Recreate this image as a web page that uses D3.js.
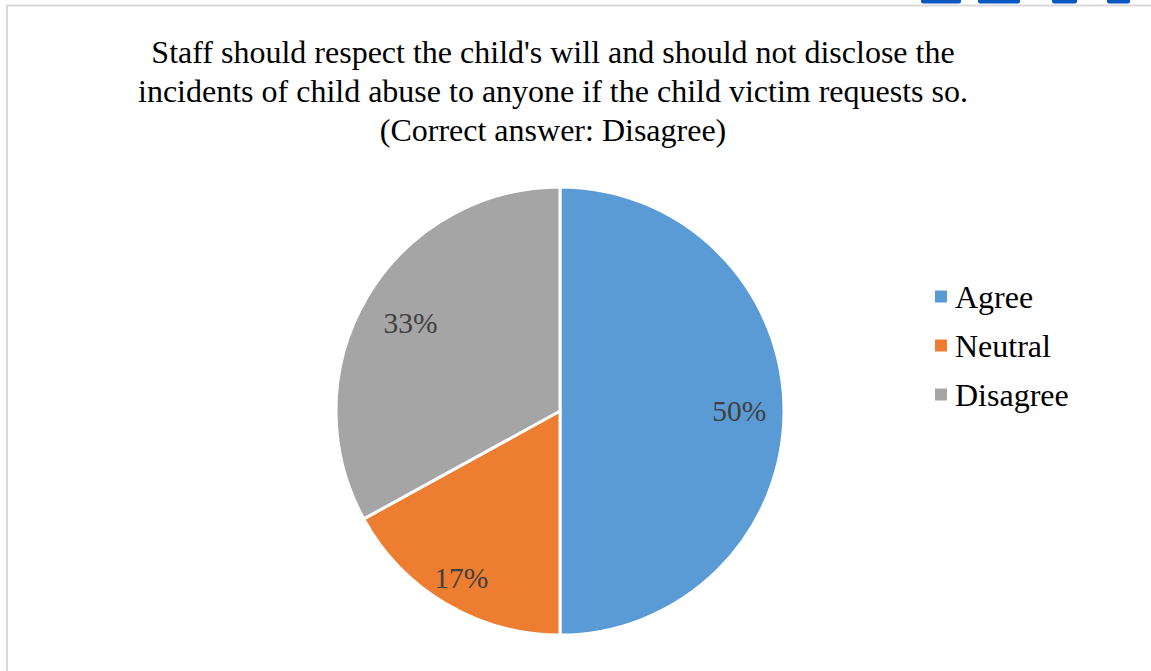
<!DOCTYPE html>
<html>
<head>
<meta charset="utf-8">
<script src="https://cdn.jsdelivr.net/npm/d3@7"></script>
<style>
  html, body { margin: 0; padding: 0; background: #fff; }
  svg { display: block; }
</style>
</head>
<body>
<svg id="chart" width="1151" height="671"></svg>
<script>
// Survey responses
const categories = ["Agree", "Neutral", "Disagree"];
const percents = [50, 17, 33];
const colors = ["#5b9bd5", "#ed7d31", "#a5a5a5"];
const titleLines = [
  "Staff should respect the child's will and should not disclose the",
  "incidents of child abuse to anyone if the child victim requests so.",
  "(Correct answer: Disagree)"
];

const svg = d3.select("#chart");
const font = "'Liberation Serif', 'Times New Roman', Times, serif";

// Chart frame
svg.append("rect")
  .attr("x", 7).attr("y", 5.5)
  .attr("width", 1160).attr("height", 680)
  .attr("fill", "#fff")
  .attr("stroke", "#d9d9d9").attr("stroke-width", 2);

// Bits of the blue page header above the frame
const headerBits = [[921, 40], [978, 42], [1052, 25], [1107, 23]];
svg.append("g").selectAll("rect")
  .data(headerBits)
  .join("rect")
  .attr("x", d => d[0]).attr("y", -3)
  .attr("width", d => d[1]).attr("height", 6.5)
  .attr("rx", 2)
  .attr("fill", "#0b57c4");

// Title
svg.append("g").selectAll("text")
  .data(titleLines)
  .join("text")
  .attr("x", 553)
  .attr("y", (d, i) => 63 + i * 39)
  .attr("text-anchor", "middle")
  .style("font-family", font)
  .style("font-size", "32px")
  .attr("fill", "#000")
  .text(d => d);

// Pie
const cx = 560, cy = 411, r = 224;
const data = categories.map((c, i) => ({ name: c, value: percents[i], color: colors[i] }));
const pie = d3.pie().value(d => d.value).sort(null);
const arc = d3.arc().innerRadius(0).outerRadius(r);
const arcs = pie(data);
// best-fit label distance from centre, as a share of the radius
const labelDist = [0.8, 0.865, 0.775];

const g = svg.append("g").attr("transform", `translate(${cx},${cy})`);
g.selectAll("path")
  .data(arcs)
  .join("path")
  .attr("d", arc)
  .attr("fill", d => d.data.color)
  .attr("stroke", "#fff")
  .attr("stroke-width", 3)
  .attr("stroke-linejoin", "round");

g.selectAll("text")
  .data(arcs)
  .join("text")
  .attr("transform", (d, i) => {
    const la = d3.arc().innerRadius(r * labelDist[i]).outerRadius(r * labelDist[i]);
    return `translate(${la.centroid(d)})`;
  })
  .attr("text-anchor", "middle")
  .attr("dy", "0.35em")
  .style("font-family", font)
  .style("font-size", "29.5px")
  .attr("fill", "#404040")
  .text(d => d.data.value + "%");

// Legend
const legend = svg.append("g").attr("transform", "translate(935,296.5)");
const rows = legend.selectAll("g")
  .data(data)
  .join("g")
  .attr("transform", (d, i) => `translate(0,${i * 49})`);
rows.append("rect")
  .attr("x", 0).attr("y", -6)
  .attr("width", 12).attr("height", 12)
  .attr("fill", d => d.color);
rows.append("text")
  .attr("x", 20)
  .attr("y", 0)
  .attr("dy", "0.35em")
  .style("font-family", font)
  .style("font-size", "32px")
  .attr("fill", "#000")
  .text(d => d.name);
</script>
</body>
</html>
